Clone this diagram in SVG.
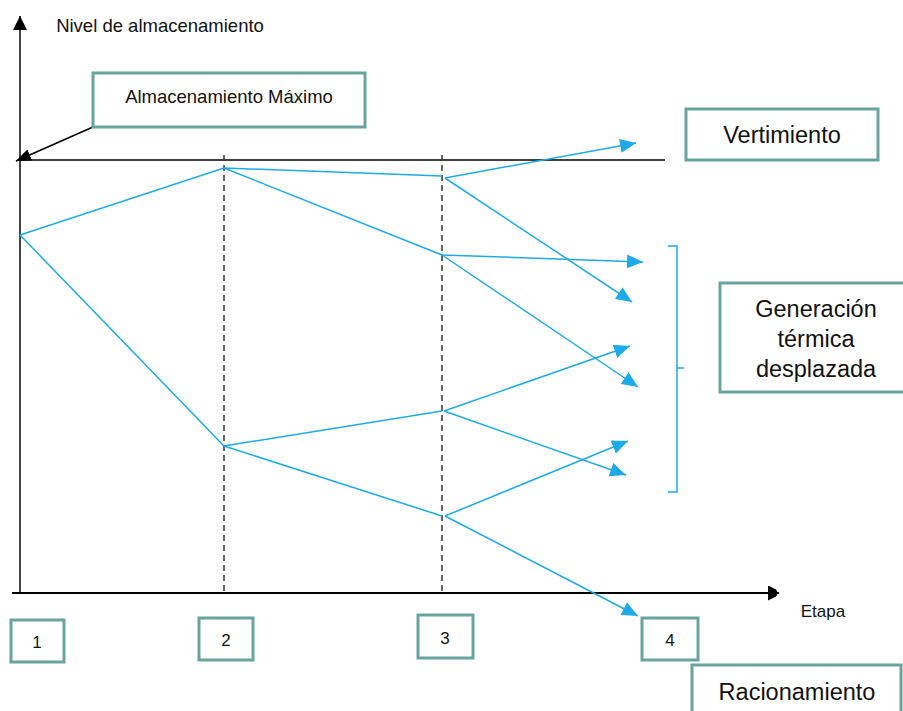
<svg xmlns="http://www.w3.org/2000/svg" width="903" height="711" viewBox="0 0 903 711">
  <style>
    .box { fill: #ffffff; stroke: #68a49d; stroke-width: 3; }
    .txt { font-family: "Liberation Sans", Arial, sans-serif; fill: #111111; text-anchor: middle; }
    .flow { stroke: #1eaae6; stroke-width: 1.5; fill: none; }
    .flowarrow { stroke: #1eaae6; stroke-width: 1.5; fill: none; marker-end: url(#blueHead); }
    .stage { stroke: #333333; stroke-width: 1.5; stroke-dasharray: 6 4; fill: none; }
  </style>
  <defs>
    <marker id="blueHead" markerUnits="userSpaceOnUse" viewBox="0 0 16 14" refX="16" refY="7" markerWidth="16" markerHeight="14" orient="auto">
      <path d="M0,0 L16,7 L0,14 Z" fill="#1eaae6"/>
    </marker>
    <marker id="blackHead" markerUnits="userSpaceOnUse" viewBox="0 0 15 12" refX="15" refY="6" markerWidth="15" markerHeight="12" orient="auto">
      <path d="M0,0 L15,6 L0,12 Z" fill="#000000"/>
    </marker>
    <marker id="axisHeadY" markerUnits="userSpaceOnUse" viewBox="0 0 14 14" refX="14" refY="7" markerWidth="14" markerHeight="14" orient="auto">
      <path d="M0,0 L14,7 L0,14 Z" fill="#000000"/>
    </marker>
    <marker id="axisHeadX" markerUnits="userSpaceOnUse" viewBox="0 0 11 15" refX="11" refY="7.5" markerWidth="11" markerHeight="15" orient="auto">
      <path d="M0,0 L8,4 Q11,7.5 8,11 L0,15 Z" fill="#000000"/>
    </marker>
  </defs>

  <!-- axes and reference lines -->
  <g id="axes">
    <line x1="20" y1="593" x2="20" y2="16" stroke="#444444" stroke-width="2" marker-end="url(#axisHeadY)"/>
    <line x1="12" y1="593" x2="779" y2="593" stroke="#000000" stroke-width="2" marker-end="url(#axisHeadX)"/>
    <line x1="20" y1="160" x2="665" y2="160" stroke="#000000" stroke-width="1.5"/>
    <line class="stage" x1="224" y1="155" x2="224" y2="593"/>
    <line class="stage" x1="442" y1="155" x2="442" y2="593"/>
    <text class="txt" x="160" y="32" font-size="18.5">Nivel de almacenamiento</text>
    <text class="txt" x="823" y="617" font-size="17">Etapa</text>
  </g>

  <!-- storage trajectories -->
  <g id="connectors">
    <line class="flow" x1="20" y1="235" x2="224" y2="168"/>
    <line class="flow" x1="20" y1="235" x2="224" y2="446"/>
    <line class="flow" x1="224" y1="168" x2="442" y2="176"/>
    <line class="flow" x1="224" y1="168" x2="442" y2="255"/>
    <line class="flow" x1="224" y1="446" x2="442" y2="411"/>
    <line class="flow" x1="224" y1="446" x2="442" y2="516"/>
    <line class="flowarrow" x1="445" y1="178" x2="636" y2="143"/>
    <line class="flowarrow" x1="445" y1="178" x2="632" y2="302"/>
    <line class="flowarrow" x1="442" y1="255" x2="643" y2="262"/>
    <line class="flowarrow" x1="442" y1="255" x2="638" y2="387"/>
    <line class="flowarrow" x1="444" y1="411" x2="630" y2="346"/>
    <line class="flowarrow" x1="444" y1="411" x2="626" y2="475"/>
    <line class="flowarrow" x1="445" y1="516" x2="628" y2="441"/>
    <line class="flowarrow" x1="445" y1="516" x2="638" y2="616"/>
    <line x1="93" y1="127" x2="16" y2="161" stroke="#000000" stroke-width="1.5" marker-end="url(#blackHead)"/>
    <path class="flow" d="M668,246 H677 V492 H668 M677,368 H684"/>
  </g>

  <g id="node-max">
    <rect class="box" x="93" y="73" width="272" height="54"/>
    <text class="txt" x="229" y="103" font-size="18.5">Almacenamiento Máximo</text>
  </g>

  <g id="node-vertimiento">
    <rect class="box" x="686" y="109" width="192" height="51"/>
    <text class="txt" x="782" y="143" font-size="23.5">Vertimiento</text>
  </g>

  <g id="node-generacion">
    <rect class="box" x="720" y="283" width="192" height="109"/>
    <text class="txt" x="816" y="317" font-size="23.5">Generación</text>
    <text class="txt" x="816" y="347" font-size="23.5">térmica</text>
    <text class="txt" x="816" y="377" font-size="23.5">desplazada</text>
  </g>

  <g id="node-racionamiento">
    <rect class="box" x="692" y="665" width="209" height="60"/>
    <text class="txt" x="797" y="700" font-size="23.5">Racionamiento</text>
  </g>

  <g id="stage-1">
    <rect class="box" x="11" y="620" width="53" height="42"/>
    <text class="txt" x="37" y="648" font-size="17">1</text>
  </g>
  <g id="stage-2">
    <rect class="box" x="199" y="618" width="54" height="42"/>
    <text class="txt" x="226" y="646" font-size="17">2</text>
  </g>
  <g id="stage-3">
    <rect class="box" x="418" y="615" width="55" height="43"/>
    <text class="txt" x="445" y="644" font-size="17">3</text>
  </g>
  <g id="stage-4">
    <rect class="box" x="642" y="618" width="56" height="42"/>
    <text class="txt" x="670" y="646" font-size="17">4</text>
  </g>
</svg>
